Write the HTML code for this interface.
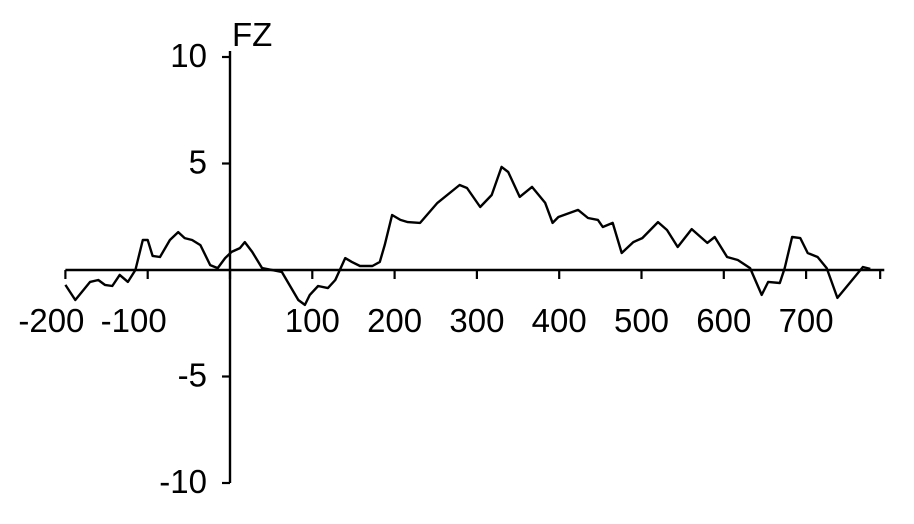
<!DOCTYPE html>
<html><head><meta charset="utf-8"><style>
html,body{margin:0;padding:0;background:#fff;}
svg{display:block;}
text{font-family:"Liberation Sans",sans-serif;font-size:33px;fill:#000;}
</style></head><body>
<svg id="chart" width="914" height="524"></svg>
<script>
const times=[-200,-188,-170,-160,-152,-143,-134,-124,-115,-106,-100,-94,-85,-73,-63,-55,-46,-36,-24,-15,-6,2,12,18,27,39,63,83,91,97,107,119,128,140,148,158,173,182,188,197,207,216,231,252,279,288,304,318,330,338,352,367,383,392,399,423,435,447,453,465,476,490,501,520,531,544,561,580,589,604,617,632,646,654,668,674,683,693,702,714,725,738,753,769,778];
const values=[-0.70,-1.41,-0.56,-0.47,-0.70,-0.75,-0.23,-0.56,0,1.41,1.41,0.66,0.61,1.41,1.78,1.50,1.41,1.17,0.23,0.09,0.56,0.85,1.03,1.31,0.85,0.09,-0.09,-1.41,-1.64,-1.17,-0.75,-0.85,-0.47,0.56,0.38,0.19,0.19,0.38,1.17,2.58,2.35,2.25,2.21,3.15,3.99,3.85,2.96,3.52,4.84,4.60,3.43,3.90,3.15,2.21,2.49,2.82,2.44,2.35,2.02,2.21,0.80,1.31,1.50,2.25,1.88,1.08,1.92,1.27,1.55,0.61,0.47,0.09,-1.17,-0.56,-0.61,0.09,1.55,1.50,0.80,0.61,0.09,-1.31,-0.61,0.14,0.05];
const xTicks=[-200,-100,0,100,200,300,400,500,600,700,790];
const xLabels=["-200","-100","100","200","300","400","500","600","700"];
const xLabelVals=[-200,-100,100,200,300,400,500,600,700];
const yTickVals=[10,5,-5,-10];
const yLabels=["10","5","-5","-10"];

const NS="http://www.w3.org/2000/svg";
const svg=document.getElementById('chart');
const X=t=>230+t*0.823;
const Y=v=>270-v*21.3;
function mk(tag,attrs){const e=document.createElementNS(NS,tag);for(const k in attrs)e.setAttribute(k,attrs[k]);svg.appendChild(e);return e;}

let e=mk('line',{x1:X(-200),y1:270,x2:X(795),y2:270,stroke:'#000','stroke-width':2.4});


e=mk('line',{x1:230,y1:Y(10)-6,x2:230,y2:Y(-10),stroke:'#000','stroke-width':2.4});



xTicks.forEach(t=>{
  const l=mk('line',{x1:X(t),y1:270,x2:X(t),y2:279,stroke:'#000','stroke-width':2.2});
  
  
});
xLabelVals.forEach((t,i)=>{
  const off=t<0?-14:0;
  const tx=mk('text',{x:X(t)+off,y:332,'text-anchor':'middle'});
  tx.textContent=xLabels[i];
  
  
});
yTickVals.forEach((v,i)=>{
  const l=mk('line',{x1:222,y1:Y(v),x2:230,y2:Y(v),stroke:'#000','stroke-width':2.2});
  
  
  const tx=mk('text',{x:207,y:Y(v)+10,'text-anchor':'end'});
  tx.textContent=yLabels[i];
  
  
});
const ft=mk('text',{x:232,y:46});
ft.textContent='FZ';



const d=times.map((t,i)=>(i?'L':'M')+X(t).toFixed(1)+' '+Y(values[i]).toFixed(1)).join(' ');
const p=mk('path',{d:d,fill:'none',stroke:'#000','stroke-width':2.4,'stroke-linejoin':'round'});


</script>
</body></html>
